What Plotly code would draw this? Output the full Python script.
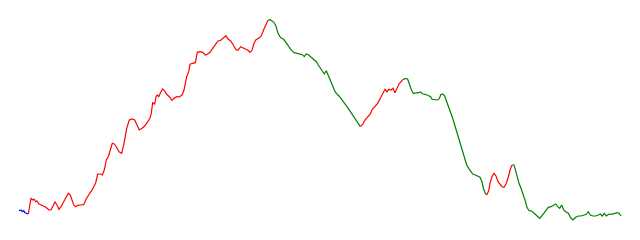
import plotly.graph_objects as go

# time positions of the sampled points
t = [19, 21, 22.3, 23.7, 25, 27, 28.3,
     29.7, 31, 33, 34.3, 35.7, 37, 39, 41, 43, 45, 47, 49, 51, 53, 55, 57, 59, 61, 63, 65, 67, 68.3,
     70.3, 71.7, 73.7, 75.7, 77.7, 80.3, 83.7, 85.7, 87.7, 89.7, 91.7, 93.7, 95.7, 97.7, 100.3, 102.3,
     104.3, 106.3, 108.3, 110.3, 112.3, 114.3, 116.3, 119, 121.7, 124, 126.7, 129.3, 132, 134.7, 136.7,
     139.3, 142, 144.7, 147.3, 150, 151.3, 152.7, 154.7, 156, 157.3, 158.7, 160.7, 162.7, 164.7, 166.7,
     169.3, 172, 174, 176.7, 179.3, 182, 184, 185.3, 186.7, 188.7, 190, 192.7, 195.3, 197.3, 200, 202.7,
     205.3, 207.3, 210, 212.7, 215.3, 218, 220.7, 223.3, 226, 228, 230.7, 233.3, 236, 238, 240.7, 242.7,
     245.3, 248, 250, 252, 254, 256, 258.7, 261.3, 264, 266, 268,
     270, 272, 274, 276, 278, 280, 281.5, 283.7, 286.3, 289, 291.7, 294.3, 297, 299.7, 302.3, 304.3,
     306.3, 308.3, 311, 313.7, 316.3, 318.3, 320.3, 322.3, 324.3, 326.3, 328.3, 330.3, 332.3, 334.3,
     336.3, 339, 341.7, 344.3, 347, 349.7, 352.3, 355, 357.7, 360.3,
     363, 365, 367.7, 370.3, 372.3, 375, 377.7, 380.3, 382.3, 385, 387, 389, 391, 393, 395, 397, 399,
     401, 403,
     405.7, 407.7, 409.5, 411.5, 413.3, 416, 418.7, 420.7, 422.7, 425.3, 428, 430.7, 432, 434.7, 437.3,
     439.3, 440.7, 442.7, 444.7, 446.7, 448.7, 450.7, 452.7, 454.7, 456.7, 458.7, 460.7, 462.7, 464.7,
     466.7, 468.7, 470.7, 472.7, 475.3, 478, 480, 482, 483.3, 485.3, 486.7,
     488.7, 490, 492, 494, 496, 498, 500, 502, 504, 506, 508, 510, 512,
     514, 515, 517, 519, 521, 523, 525, 527, 529, 531.7, 534.3, 537, 539.7, 541.7, 544.3, 546.3, 548.3,
     551, 553.7, 555.7, 557.7, 559.7, 561.7, 563.7, 565.7, 568.3, 571, 573, 575.7, 578.3, 581, 583.7,
     586.3, 588.3, 590.3, 593, 595.7, 598.3, 600.3, 602.3, 604.3, 606.3, 609, 611.7, 614.3, 617, 619, 621]

# series values at those times
values = [29.3, 30, 28.3, 29.3, 27.3, 26, 26,
          36.7, 41.7, 40, 40.7, 38.3, 39, 36, 35, 34.7, 33.3, 31.7, 30, 30, 34, 38, 35, 30.7, 33.3, 37.3,
          41.7, 45, 46.7, 45, 40, 35, 33.3, 34.7, 35, 35.3, 40, 44, 46.7, 49.3, 53.3, 57.3, 66, 66, 65,
          70, 80, 83.3, 90, 96.7, 96, 93.3, 88.3, 86.7, 96.7, 111.7, 120, 121, 120, 115, 110, 111.7, 114,
          117.7, 121.7, 126.7, 137.7, 135.7, 143.3, 145, 143.3, 147.7, 151, 149, 145.7, 143.3, 139.7,
          141.7, 143.3, 143, 145, 150, 158.3, 163.3, 168.3, 175.7, 176.7, 177.3, 187.7, 188.3, 187.7, 185,
          185.7, 187.7, 191.7, 195.7, 199, 199.7, 201.7, 204.3, 201, 199, 195, 190.3, 189.7, 193.3, 192.3,
          191, 189.7, 187.7, 189.7, 196.7, 200.3, 201.7, 204.3, 211, 215.7, 219.7,
          220.3, 219, 217.7, 213.7, 206.7, 203.3, 201.7, 200.7, 196.7, 192.7, 189.3, 187.3, 186.7, 186,
          185.3, 183.3, 186, 185.3, 182.7, 180.7, 178.3, 175, 171.7, 168.3, 166, 169.3, 165, 160, 155,
          150, 146.7, 144, 140.7, 137.3, 133.3, 129.3, 125, 121.7, 117.3, 113.3,
          116, 120, 123.3, 126, 130.7, 133.3, 136.7, 141.7, 146, 150.7, 148.3, 150.7, 150, 151.7, 147.3,
          151.7, 156, 158.3, 160.7,
          161.5, 160.7, 155, 149.7, 146.7, 146.7, 147.3, 148, 146, 145.7, 144.7, 143.3, 140.7, 140, 140,
          141.3, 145.3, 146, 144, 138.3, 133.3, 128.3, 121.7, 115, 108.3, 101.7, 95, 86.7, 80, 75, 71.7,
          68.3, 66, 65, 64, 62.7, 58.3, 51.7, 46.7, 45,
          49.3, 56.7, 63.3, 66.7, 64, 58.3, 56, 53.3, 52.7, 56, 61.7, 70, 75,
          75, 71.7, 63.3, 56.7, 51.7, 46.7, 40, 32.7, 29.3, 29, 26.7, 24, 21.7, 24, 27.3, 30, 32.7, 33.3,
          35, 36, 33.3, 31.7, 35, 30, 28.3, 26.7, 21.7, 20, 22.7, 24, 24, 25, 25.7, 28.3, 25, 24, 24, 25,
          26, 24, 26.7, 24, 26, 25.7, 26.7, 27.3, 26.7, 24]

# times where the trend turns, and the colour of each trend leg
turn_t = [19, 28.3, 268, 360.3, 403, 486.7, 512, 621]
trend_colors = ["blue", "red", "green", "red", "green", "red", "green"]

fig = go.Figure()
for k, color in enumerate(trend_colors):
    i0 = t.index(turn_t[k])
    i1 = t.index(turn_t[k + 1])
    fig.add_trace(go.Scatter(
        x=t[i0:i1 + 1], y=values[i0:i1 + 1], mode="lines",
        line=dict(color=color, width=1.2), hoverinfo="skip", showlegend=False))

fig.update_layout(
    width=640, height=240,
    margin=dict(l=0, r=0, t=0, b=0),
    paper_bgcolor="white", plot_bgcolor="white",
    xaxis=dict(range=[0, 640], visible=False),
    yaxis=dict(range=[0, 240], visible=False),
    showlegend=False,
)
fig.write_html("out.html", config={"displayModeBar": False})
